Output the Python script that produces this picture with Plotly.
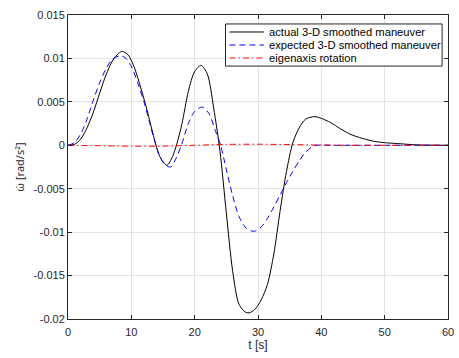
import plotly.graph_objects as go

# actual 3-D smoothed maneuver
t_act = [0, 1, 2, 3, 4, 5, 6, 7, 8, 8.6, 9.5, 10.5, 11.5, 12.5, 13.5, 14.5, 15.6, 16.5, 17.2, 18, 19, 20,
         21, 22, 23, 24, 25, 26, 27, 28, 28.6, 29.5, 30.5, 31.5, 32.5, 33.5, 34.5, 35.5, 36.5, 37.5, 38.9,
         40, 41.5, 43, 44.5, 46, 48, 50, 52, 55, 60]
w_act = [0, 0.0001, 0.0007, 0.0020, 0.0038, 0.0060, 0.0081, 0.0097, 0.0106, 0.0108, 0.0104, 0.0089,
         0.0066, 0.0040, 0.0011, -0.0013, -0.0023, -0.0013, 0.0002, 0.0025, 0.0062, 0.0085,
         0.0092, 0.0082, 0.0043, -0.0007, -0.0078, -0.0145, -0.0183, -0.0192, -0.0193, -0.0189,
         -0.0178, -0.0160, -0.0125, -0.0075, -0.0030, 0.0003, 0.0020, 0.0030, 0.0033,
         0.0031, 0.0026, 0.0019, 0.0013, 0.0009, 0.0005, 0.0003, 0.0002, 0.00005, 0.0]

# expected 3-D smoothed maneuver
t_exp = [0, 1, 2, 3, 4, 5, 6, 7, 8.2, 9, 10, 11, 12, 13, 13.8, 14.5, 15.3, 16.2, 17, 17.9, 19, 20, 21.2,
         22.3, 23.2, 24.1, 25, 26, 27, 28.2, 29.4, 30.5, 31.5, 32.5, 33.5, 34.5, 35.5, 36.5, 37.5, 38.5,
         39.2, 42, 46, 50, 55, 60]
w_exp = [0, 0.0003, 0.0013, 0.0030, 0.0052, 0.0072, 0.0088, 0.0099, 0.0103, 0.0101, 0.0091, 0.0072,
         0.0050, 0.0023, 0.0002, -0.0013, -0.0022, -0.0025, -0.0016, 0.0, 0.0025, 0.0039, 0.0044,
         0.0036, 0.0018, 0.0, -0.0028, -0.0058, -0.0082, -0.0096, -0.0099, -0.0094, -0.0084, -0.0071,
         -0.0057, -0.0043, -0.0030, -0.0018, -0.0008, -0.0002, 0.0, 0.0, 0.0, 0.0, 0.0, 0.0]

# eigenaxis rotation
t_eig = [0, 5, 10, 15, 20, 25, 30, 35, 40, 45, 50, 55, 60]
w_eig = [0, -0.00005, -0.0001, -0.0001, 0.0, 0.0001, 0.00012, 0.00008, 0.00003, 0.0, 0.0, 0.0, 0.0]

series_names = ["actual 3-D smoothed maneuver", "expected 3-D smoothed maneuver", "eigenaxis rotation"]
series_colors = ["black", "#0000ff", "#ff0000"]
series_dash = ["solid", "6px,4px", "6px,3px,1.5px,3px"]

x_ticks = [0, 10, 20, 30, 40, 50, 60]
y_ticks = [0.015, 0.01, 0.005, 0, -0.005, -0.01, -0.015, -0.02]
y_labels = ["0.015", "0.01", "0.005", "0", "-0.005", "-0.01", "-0.015", "-0.02"]

fig = go.Figure()
for tx, wy, nm, col, ds in zip([t_act, t_exp, t_eig], [w_act, w_exp, w_eig],
                               series_names, series_colors, series_dash):
    fig.add_trace(go.Scatter(x=tx, y=wy, mode="lines", name=nm, showlegend=False,
                             line=dict(color=col, width=1, dash=ds, shape="spline", smoothing=0.8)))

axcol = "#262626"

# manual legend (compact, MATLAB-like)
lx0, lx1, ly0, ly1 = 0.4145, 0.9845, 0.832, 0.9705
fig.add_shape(type="rect", xref="paper", yref="paper", x0=lx0, x1=lx1, y0=ly0, y1=ly1,
              line=dict(color=axcol, width=1), fillcolor="white", layer="above")
rows = [0.9441, 0.9013, 0.8586]
for ry, nm, col, ds in zip(rows, series_names, series_colors, series_dash):
    fig.add_shape(type="line", xref="paper", yref="paper", x0=0.4249, x1=0.5155, y0=ry, y1=ry,
                  line=dict(color=col, width=1, dash=ds), layer="above")
    fig.add_annotation(xref="paper", yref="paper", x=0.5233, y=ry, text=nm, showarrow=False,
                       xanchor="left", yanchor="middle", font=dict(size=11.2, color="black"))

fig.update_layout(
    width=459, height=358,
    margin=dict(l=68, r=5, t=15, b=39),
    paper_bgcolor="white", plot_bgcolor="white",
    font=dict(family="Liberation Sans, Arial, sans-serif", size=11, color=axcol),
    showlegend=False,
    xaxis=dict(range=[0, 60], tickvals=x_ticks, ticks="inside", ticklen=4, tickcolor=axcol,
               showline=True, linecolor=axcol, linewidth=1, mirror="allticks",
               showgrid=True, gridcolor="#e3e3e3", gridwidth=1, zeroline=False,
               ticklabeloverflow="allow", ticklabelstandoff=3,
               title=dict(text="t [s]", standoff=3, font=dict(size=12)), tickfont=dict(size=11)),
    yaxis=dict(range=[-0.02, 0.015], tickvals=y_ticks, ticktext=y_labels, ticks="inside", ticklen=4,
               tickcolor=axcol, showline=True, linecolor=axcol, linewidth=1, mirror="allticks",
               showgrid=True, gridcolor="#e3e3e3", gridwidth=1, zeroline=False,
               title=dict(text="ω̇ [rad/s²]", standoff=6, font=dict(family="Noto Sans", size=11)),
               tickfont=dict(size=11)),
)

fig.write_html("out.html")
